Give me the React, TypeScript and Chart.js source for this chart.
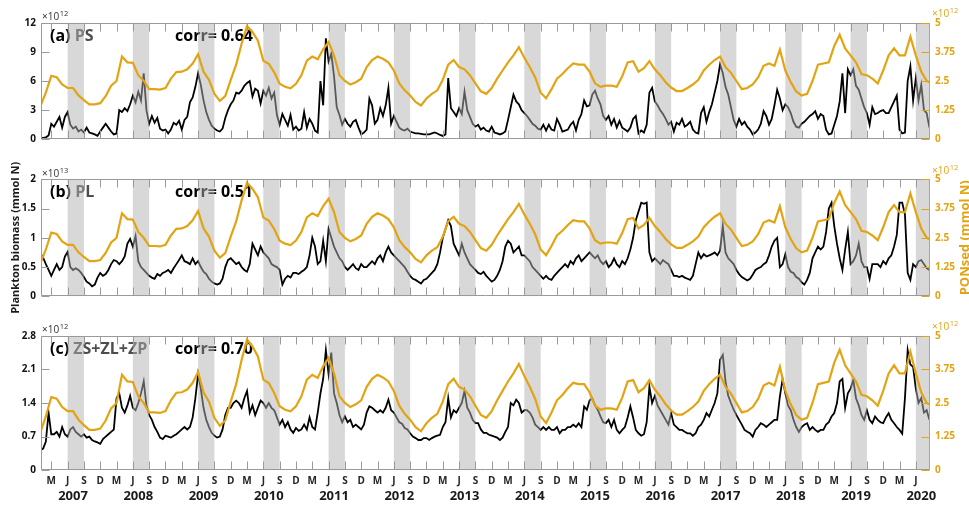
import React, { useEffect, useRef } from 'react';
import { Chart, registerables } from 'chart.js';

Chart.register(...registerables);

const FONT = "'Open Sans', 'Noto Sans', sans-serif";
const ORANGE = '#E3A413';
const FRAME = '#9a9a9a';
const BAND_FILL = 'rgba(178,178,178,0.5)';
const W = 969;
const H = 507;

// time axis (decimal years)
const X_MIN = 2007.009;
const X_MAX = 2020.634;
const BIO_START = 2007;
const BIO_STEP = 1 / 24; // half-month samples
const PON_START = 2007;
const PON_STEP = 1 / 12; // monthly samples

const YEARS = [2007, 2008, 2009, 2010, 2011, 2012, 2013, 2014, 2015, 2016, 2017, 2018, 2019, 2020];
const MONTH_LABELS = ['M', 'J', 'S', 'D'];
const MONTH_INDEX = [2, 5, 8, 11];
const BAND_MONTHS = [5, 8]; // Jun 1 – Sep 1

// (a) PS  [×10^12 mmol N]
const PS = [
  0.15, 0.15, 0.2, 0.4, 1.6, 1.3, 1.8, 2.3, 1.2, 2.3, 2.8, 1.5, 1.1, 1.3, 0.8, 1.0, 0.7, 1.2, 0.7, 0.6, 0.5, 0.35, 0.8, 1.2,
  1.6, 1.2, 0.8, 0.5, 0.6, 3.0, 2.8, 3.2, 2.9, 3.6, 4.5, 3.8, 4.9, 4.0, 6.8, 3.0, 1.6, 2.4, 1.7, 2.2, 1.1, 0.9, 1.0, 0.6,
  1.0, 1.7, 1.5, 1.9, 1.0, 2.0, 2.3, 3.8, 4.3, 5.4, 6.8, 5.6, 4.0, 2.8, 2.0, 1.4, 1.1, 0.9, 0.8, 1.1, 2.2, 3.0, 3.6, 4.0,
  4.8, 4.7, 5.0, 5.5, 5.8, 6.0, 4.4, 5.2, 5.0, 3.7, 5.0, 4.5, 5.3, 4.2, 4.8, 2.5, 1.5, 2.6, 2.0, 1.4, 2.5, 1.0, 1.3, 0.9,
  1.1, 2.8, 1.2, 2.1, 1.6, 0.9, 0.7, 6.0, 3.5, 10.4, 8.0, 8.8, 6.5, 3.3, 2.5, 1.5, 2.1, 1.6, 1.3, 1.8, 2.0, 1.2, 0.5, 0.7,
  1.0, 4.2, 3.5, 1.6, 2.0, 3.2, 2.4, 3.5, 5.3, 1.6, 2.4, 1.8, 1.2, 1.0, 0.9, 1.1, 0.8, 0.7, 0.6, 0.6, 0.55, 0.5, 0.5, 0.5,
  0.6, 0.7, 0.6, 0.45, 0.35, 0.5, 6.3, 3.2, 2.8, 2.4, 3.2, 2.6, 4.9, 3.0, 2.3, 1.6, 1.3, 1.5, 1.0, 1.2, 0.9, 0.8, 1.3, 0.7,
  0.6, 0.5, 0.6, 0.8, 2.0, 3.3, 4.6, 3.9, 3.6, 3.0, 2.7, 2.4, 2.0, 1.6, 1.4, 1.1, 1.0, 1.5, 0.9, 1.5, 1.0, 0.9, 2.1, 1.5,
  0.8, 0.9, 1.0, 1.5, 1.8, 0.9, 2.0, 2.6, 4.0, 3.4, 3.5, 4.6, 5.0, 4.2, 3.6, 2.4, 2.0, 2.4, 1.5, 2.1, 1.2, 1.9, 1.2, 1.0,
  0.8, 1.2, 2.1, 2.4, 0.6, 0.9, 0.7, 1.5, 4.8, 5.3, 3.9, 3.5, 3.0, 2.6, 2.1, 1.5, 1.8, 0.8, 1.7, 1.5, 2.1, 1.3, 1.5, 1.8,
  1.0, 0.7, 0.6, 2.7, 3.3, 1.8, 2.8, 3.6, 4.8, 6.0, 7.7, 6.8, 5.4, 4.6, 3.3, 2.0, 1.3, 2.1, 1.5, 1.8, 1.3, 1.0, 0.5, 0.7,
  1.0, 1.6, 2.9, 2.4, 1.5, 2.1, 3.5, 5.1, 4.2, 3.0, 3.6, 3.3, 2.7, 1.8, 1.3, 1.2, 1.6, 1.8, 2.1, 2.4, 2.6, 2.9, 2.1, 2.6,
  2.4, 1.0, 0.5, 0.6, 1.5, 2.4, 3.9, 6.8, 2.7, 7.2, 6.6, 7.2, 5.5, 5.1, 4.2, 3.3, 2.7, 1.5, 3.3, 2.6, 2.7, 2.9, 3.0, 2.7,
  2.7, 3.3, 3.9, 4.5, 1.0, 0.6, 0.7, 6.0, 7.5, 4.0, 6.3, 4.0, 5.6, 3.0, 2.7, 1.2,
];

// (b) PL  [×10^13 mmol N]
const PL = [
  0.73, 0.66, 0.55, 0.45, 0.35, 0.45, 0.55, 0.45, 0.5, 0.68, 0.76, 0.5, 0.45, 0.48, 0.45, 0.4, 0.33, 0.25, 0.22, 0.17, 0.2, 0.32, 0.4, 0.35,
  0.38, 0.45, 0.55, 0.62, 0.6, 0.55, 0.6, 0.68, 0.9, 0.98, 0.85, 1.03, 0.6, 0.5, 0.45, 0.4, 0.35, 0.32, 0.3, 0.38, 0.35, 0.4, 0.42, 0.45,
  0.4, 0.48, 0.55, 0.62, 0.7, 0.6, 0.58, 0.55, 0.65, 0.55, 0.6, 0.5, 0.42, 0.38, 0.3, 0.25, 0.22, 0.2, 0.22, 0.3, 0.5, 0.62, 0.65, 0.6,
  0.55, 0.58, 0.5, 0.45, 0.42, 0.55, 0.9, 0.8, 0.7, 0.85, 0.75, 0.7, 0.65, 0.55, 0.52, 0.5, 0.45, 0.2, 0.3, 0.35, 0.32, 0.4, 0.4, 0.38,
  0.42, 0.45, 0.5, 0.7, 1.0, 0.85, 0.55, 0.6, 0.95, 0.6, 1.15, 1.0, 0.85, 0.75, 0.65, 0.6, 0.5, 0.45, 0.5, 0.55, 0.48, 0.45, 0.55, 0.5,
  0.5, 0.55, 0.6, 0.55, 0.65, 0.7, 0.6, 0.75, 0.85, 0.75, 0.7, 0.65, 0.6, 0.55, 0.5, 0.42, 0.35, 0.3, 0.28, 0.25, 0.22, 0.28, 0.3, 0.35,
  0.4, 0.45, 0.55, 0.75, 1.0, 1.15, 1.3, 1.2, 0.9, 0.8, 0.7, 0.9, 0.75, 0.65, 0.55, 0.5, 0.45, 0.4, 0.38, 0.42, 0.35, 0.3, 0.25, 0.28,
  0.35, 0.45, 0.6, 0.85, 0.95, 0.9, 0.75, 0.8, 0.85, 0.7, 0.7, 0.65, 0.6, 0.5, 0.45, 0.4, 0.35, 0.3, 0.35, 0.3, 0.28, 0.35, 0.4, 0.45,
  0.5, 0.55, 0.5, 0.6, 0.55, 0.65, 0.7, 0.6, 0.65, 0.7, 0.75, 0.7, 0.65, 0.7, 0.6, 0.55, 0.6, 0.5, 0.55, 0.65, 0.55, 0.5, 0.6, 0.55,
  0.65, 0.8, 1.0, 1.3, 1.45, 1.6, 1.58, 1.6, 0.75, 0.6, 0.65, 0.6, 0.55, 0.62, 0.58, 0.55, 0.45, 0.35, 0.35, 0.33, 0.35, 0.32, 0.3, 0.28,
  0.35, 0.55, 0.75, 0.65, 0.72, 0.68, 0.7, 0.72, 0.75, 0.7, 0.78, 1.2, 0.75, 0.65, 0.6, 0.55, 0.45, 0.38, 0.33, 0.3, 0.27, 0.3, 0.37, 0.45,
  0.48, 0.5, 0.55, 0.58, 0.7, 0.85, 0.95, 1.0, 0.5, 0.55, 0.72, 0.5, 0.42, 0.4, 0.33, 0.3, 0.24, 0.2, 0.28, 0.4, 0.65, 0.75, 0.85, 0.8,
  0.85, 1.1, 1.5, 1.6, 1.2, 0.9, 0.65, 0.45, 0.8, 1.1, 0.55, 0.6, 0.7, 0.9, 0.6, 0.5, 0.5, 0.3, 0.55, 0.55, 0.55, 0.5, 0.6, 0.55,
  0.65, 0.7, 0.85, 1.05, 1.6, 1.6, 1.4, 0.4, 0.28, 0.55, 0.5, 0.6, 0.62, 0.55, 0.48, 0.45,
];

// (c) ZS+ZL+ZP  [×10^12 mmol N]
const ZOO = [
  0.42, 0.45, 0.6, 1.2, 0.75, 0.75, 0.8, 0.7, 0.9, 0.75, 0.7, 0.85, 0.9, 0.8, 0.75, 0.7, 0.75, 0.68, 0.7, 0.63, 0.6, 0.58, 0.55, 0.65,
  0.7, 0.75, 0.8, 0.85, 1.5, 1.6, 1.3, 1.2, 1.35, 1.55, 1.3, 1.25, 1.4, 1.6, 1.85, 1.35, 1.15, 1.05, 0.9, 0.8, 0.68, 0.65, 0.72, 0.7,
  0.68, 0.72, 0.75, 0.8, 0.85, 0.9, 0.85, 0.9, 1.1, 1.5, 2.0, 1.7, 1.3, 1.05, 0.9, 0.78, 0.72, 0.68, 0.7, 0.85, 1.15, 1.3, 1.3, 1.4,
  1.45, 1.4, 1.3, 1.5, 1.65, 1.2, 1.35, 1.15, 1.3, 1.45, 1.4, 1.3, 1.4, 1.3, 1.25, 1.1, 0.95, 1.05, 0.9, 1.0, 0.85, 0.78, 0.88, 0.82,
  0.85, 0.95, 0.85, 1.1, 0.9, 0.85, 1.2, 1.6, 1.9, 2.5, 2.0, 2.45, 1.6, 1.4, 1.15, 1.0, 1.12, 1.0, 1.05, 0.9, 0.95, 0.9, 0.85, 0.95,
  1.2, 1.33, 1.3, 1.25, 1.2, 1.25, 1.2, 1.3, 1.47, 1.25, 1.2, 1.1, 1.0, 0.97, 0.88, 0.85, 0.77, 0.7, 0.67, 0.63, 0.63, 0.67, 0.67, 0.63,
  0.67, 0.7, 0.72, 0.74, 0.9, 1.0, 1.5, 1.1, 1.25, 1.2, 1.3, 1.4, 1.65, 1.3, 1.2, 1.05, 0.98, 0.98, 0.85, 0.78, 0.78, 0.74, 0.72, 0.7,
  0.68, 0.63, 0.68, 0.8, 0.9, 1.4, 1.35, 1.47, 1.4, 1.2, 1.25, 1.25, 1.2, 1.1, 0.95, 0.9, 0.84, 0.9, 0.84, 0.9, 0.84, 0.84, 0.9, 0.77,
  0.84, 0.84, 0.9, 0.9, 0.95, 0.9, 0.98, 0.9, 1.33, 1.26, 1.45, 1.5, 1.35, 1.26, 1.12, 1.0, 0.98, 1.05, 0.9, 1.05, 0.84, 0.77, 0.84, 0.9,
  1.1, 1.33, 1.1, 0.84, 0.77, 0.72, 0.75, 1.0, 1.74, 1.4, 1.55, 1.35, 1.25, 1.15, 1.05, 0.95, 1.19, 0.95, 0.9, 0.84, 0.84, 0.8, 0.77, 0.77,
  0.72, 0.77, 0.9, 0.95, 1.05, 1.19, 1.12, 1.26, 1.4, 1.6, 2.3, 2.4, 1.85, 1.55, 1.4, 1.26, 1.15, 1.05, 0.95, 0.84, 0.8, 0.77, 0.7, 0.84,
  0.9, 0.98, 0.95, 0.9, 0.95, 1.0, 1.05, 1.05, 1.54, 1.9, 1.6, 1.35, 1.25, 1.05, 0.9, 0.8, 0.9, 0.95, 0.98, 0.84, 0.9, 0.84, 0.8, 0.84,
  0.84, 0.95, 1.0, 1.12, 1.19, 1.4, 1.85, 1.9, 1.3, 1.6, 1.7, 1.88, 1.5, 1.35, 1.15, 1.05, 1.25, 1.05, 0.98, 1.12, 1.05, 1.0, 0.98, 1.1,
  1.19, 1.05, 0.98, 0.9, 0.84, 0.76, 1.5, 2.5, 2.2, 2.15, 1.7, 1.4, 1.5, 1.2, 1.25, 1.05,
];

// PONsed  [×10^12 mmol N], monthly
const PONSED = [
  1.42, 2.0, 2.72, 2.66, 2.35, 2.2, 2.2, 1.88, 1.68, 1.5, 1.5, 1.55,
  1.85, 2.3, 2.5, 3.55, 3.3, 3.28, 2.75, 2.5, 2.15, 2.15, 2.13, 2.2,
  2.6, 2.88, 2.9, 3.0, 3.25, 3.65, 2.9, 2.55, 1.95, 1.65, 1.85, 2.55,
  3.2, 4.1, 4.85, 4.6, 4.23, 3.37, 3.24, 2.87, 2.38, 2.25, 2.19, 2.38,
  2.75, 3.37, 3.55, 3.43, 3.86, 4.17, 3.6, 2.75, 2.5, 2.35, 2.45, 2.6,
  3.1, 3.4, 3.55, 3.45, 3.3, 2.95, 2.4, 2.1, 1.88, 1.6, 1.45, 1.75,
  1.95, 2.1, 2.55, 3.2, 3.4, 3.1, 3.0, 2.75, 2.4, 2.06, 1.95, 2.2,
  2.6, 2.95, 3.3, 3.6, 3.95, 3.5, 3.1, 2.65, 2.0, 1.76, 2.15, 2.6,
  2.8, 3.05, 3.25, 3.2, 3.2, 2.9, 2.4, 2.25, 2.3, 2.3, 2.25, 2.7,
  3.3, 3.35, 2.9, 3.05, 3.35, 3.0, 2.75, 2.45, 2.22, 2.07, 2.07, 2.2,
  2.35, 2.55, 2.95, 3.2, 3.4, 3.55, 3.1, 2.85, 2.5, 2.15, 2.2, 2.35,
  2.65, 3.15, 3.25, 3.15, 3.85, 2.95, 2.45, 2.05, 1.88, 1.95, 2.5, 3.2,
  3.25, 3.3, 4.0, 4.48, 3.9, 3.6, 3.3, 2.8, 2.75, 2.6, 2.4, 2.95,
  3.6, 3.9, 3.6, 3.6, 4.4, 3.6, 2.9, 2.5, 2.4,
];

const PS_TICKS = [0, 3, 6, 9, 12];
const PS_TICK_LABELS = ['0', '3', '6', '9', '12'];
const PL_TICKS = [0, 0.5, 1, 1.5, 2];
const PL_TICK_LABELS = ['0', '0.5', '1', '1.5', '2'];
const ZOO_TICKS = [0, 0.7, 1.4, 2.1, 2.8];
const ZOO_TICK_LABELS = ['0', '0.7', '1.4', '2.1', '2.8'];
const PON_TICKS = [0, 1.25, 2.5, 3.75, 5];
const PON_TICK_LABELS = ['0', '1.25', '2.5', '3.75', '5'];

const LEFT_TITLE = 'Plankton biomass (mmol N)';
const RIGHT_TITLE = 'PONsed (mmol N)';

const MONTH_TICKS: number[] = [];
const MONTH_TICK_LABELS: string[] = [];
YEARS.forEach((y) => {
  MONTH_INDEX.forEach((m, i) => {
    const v = y + m / 12;
    if (v >= X_MIN && v <= X_MAX) {
      MONTH_TICKS.push(v);
      MONTH_TICK_LABELS.push(MONTH_LABELS[i]);
    }
  });
});
const YEAR_TICKS = YEARS.map((y) => y + 0.5);
const YEAR_TICK_LABELS = YEARS.map((y) => String(y));

type PanelCfg = {
  tag: string;
  name: string;
  corr: string;
  exp: string;
  series: number[];
  ticks: number[];
  tickLabels: string[];
  top: number;
  bottom: number;
  showX: boolean;
  axisTitles: boolean;
};

const PANELS: PanelCfg[] = [
  { tag: '(a)', name: 'PS', corr: '0.64', exp: '12', series: PS, ticks: PS_TICKS, tickLabels: PS_TICK_LABELS, top: 22.7, bottom: 157.3, showX: false, axisTitles: false },
  { tag: '(b)', name: 'PL', corr: '0.51', exp: '13', series: PL, ticks: PL_TICKS, tickLabels: PL_TICK_LABELS, top: 179.3, bottom: 314.3, showX: false, axisTitles: true },
  { tag: '(c)', name: 'ZS+ZL+ZP', corr: '0.70', exp: '12', series: ZOO, ticks: ZOO_TICKS, tickLabels: ZOO_TICK_LABELS, top: 335.7, bottom: 470.3, showX: true, axisTitles: false },
];

function decoPlugin(p: PanelCfg) {
  return {
    id: 'panelDeco',
    afterDatasetDraw(chart: any, args: any) {
      if (args.index !== 0) return;
      const { ctx, chartArea: a } = chart;
      const x = chart.scales.x;
      ctx.save();
      // panel titles
      ctx.font = `bold 16px ${FONT}`;
      ctx.textAlign = 'left';
      ctx.textBaseline = 'alphabetic';
      const ty = a.top + 18;
      const tx = a.left + 9;
      ctx.fillStyle = '#000';
      ctx.fillText(p.tag + ' ', tx, ty);
      const w = ctx.measureText(p.tag + ' ').width;
      ctx.fillStyle = '#4d4d4d';
      ctx.fillText(p.name, tx + w, ty);
      ctx.fillStyle = '#000';
      ctx.fillText('corr= ' + p.corr, a.left + 134, ty);
      // summer bands (semi-transparent overlay)
      ctx.beginPath();
      ctx.rect(a.left, a.top, a.right - a.left, a.bottom - a.top);
      ctx.clip();
      ctx.fillStyle = BAND_FILL;
      YEARS.forEach((y) => {
        const x0 = x.getPixelForValue(y + BAND_MONTHS[0] / 12);
        const x1 = x.getPixelForValue(y + BAND_MONTHS[1] / 12);
        ctx.fillRect(x0, a.top, x1 - x0, a.bottom - a.top);
      });
      ctx.restore();
    },
    afterDraw(chart: any) {
      const { ctx, chartArea: a } = chart;
      const x = chart.scales.x;
      const y = chart.scales.y;
      const y1 = chart.scales.y1;
      ctx.save();
      ctx.lineWidth = 1;
      const L = Math.round(a.left) + 0.5;
      const R = Math.round(a.right) - 0.5;
      const T = Math.round(a.top) + 0.5;
      const B = Math.round(a.bottom) - 0.5;
      const TL = 8;
      ctx.strokeStyle = FRAME;
      ctx.beginPath();
      ctx.moveTo(R, T);
      ctx.lineTo(L, T);
      ctx.lineTo(L, B);
      ctx.lineTo(R, B);
      MONTH_TICKS.forEach((v) => {
        const px = Math.round(x.getPixelForValue(v)) + 0.5;
        ctx.moveTo(px, T);
        ctx.lineTo(px, T + TL);
        ctx.moveTo(px, B);
        ctx.lineTo(px, B - TL);
      });
      p.ticks.forEach((v) => {
        const py = Math.round(y.getPixelForValue(v)) + 0.5;
        ctx.moveTo(L, py);
        ctx.lineTo(L + TL, py);
      });
      ctx.stroke();
      ctx.strokeStyle = ORANGE;
      ctx.beginPath();
      ctx.moveTo(R, T);
      ctx.lineTo(R, B);
      PON_TICKS.forEach((v) => {
        const py = Math.round(y1.getPixelForValue(v)) + 0.5;
        ctx.moveTo(R, py);
        ctx.lineTo(R - TL, py);
      });
      ctx.stroke();

      // exponent labels
      ctx.textAlign = 'left';
      ctx.textBaseline = 'alphabetic';
      ctx.fillStyle = '#333';
      ctx.font = `10px ${FONT}`;
      ctx.fillText('×10', a.left + 1, a.top - 2.7);
      let w = ctx.measureText('×10').width;
      ctx.font = `7.5px ${FONT}`;
      ctx.fillText(p.exp, a.left + 1.5 + w, a.top - 6.7);
      ctx.fillStyle = ORANGE;
      ctx.font = `10px ${FONT}`;
      ctx.fillText('×10', a.right + 2, a.top - 5.4);
      w = ctx.measureText('×10').width;
      ctx.font = `7.5px ${FONT}`;
      ctx.fillText('12', a.right + 2.5 + w, a.top - 9.5);

      if (p.axisTitles) {
        const cy = (a.top + a.bottom) / 2;
        ctx.font = `bold 11px ${FONT}`;
        ctx.textAlign = 'center';
        ctx.textBaseline = 'alphabetic';
        ctx.fillStyle = '#1a1a1a';
        ctx.save();
        ctx.translate(18.5, cy);
        ctx.rotate(-Math.PI / 2);
        ctx.fillText(LEFT_TITLE, 0, 0);
        ctx.restore();
        ctx.font = `bold 13px ${FONT}`;
        ctx.fillStyle = ORANGE;
        ctx.save();
        ctx.translate(968.5, cy);
        ctx.rotate(-Math.PI / 2);
        ctx.fillText(RIGHT_TITLE, 0, 0);
        ctx.restore();
      }
      ctx.restore();
    },
  };
}

function Panel({ p }: { p: PanelCfg }) {
  const ref = useRef<HTMLCanvasElement>(null);
  useEffect(() => {
    const tickFont = { family: FONT, size: 10, weight: 'bold' as const };
    const scales: any = {
      x: {
        type: 'linear',
        position: 'bottom',
        min: X_MIN,
        max: X_MAX,
        display: p.showX,
        weight: 0,
        afterBuildTicks: (s: any) => {
          s.ticks = MONTH_TICKS.map((v) => ({ value: v }));
        },
        afterFit: (s: any) => {
          s.height = 18;
        },
        ticks: {
          autoSkip: false,
          maxRotation: 0,
          minRotation: 0,
          padding: 4.4,
          font: tickFont,
          color: '#262626',
          callback: (_v: any, i: number) => MONTH_TICK_LABELS[i],
        },
        grid: { display: false, drawTicks: false },
        border: { display: false },
      },
      y: {
        type: 'linear',
        position: 'left',
        min: 0,
        max: p.ticks[p.ticks.length - 1],
        afterBuildTicks: (s: any) => {
          s.ticks = p.ticks.map((v) => ({ value: v }));
        },
        afterFit: (s: any) => {
          s.width = 41;
        },
        ticks: {
          padding: 5,
          font: tickFont,
          color: '#111',
          callback: (_v: any, i: number) => p.tickLabels[i],
        },
        grid: { display: false, drawTicks: false },
        border: { display: false },
      },
      y1: {
        type: 'linear',
        position: 'right',
        min: 0,
        max: 5,
        afterBuildTicks: (s: any) => {
          s.ticks = PON_TICKS.map((v) => ({ value: v }));
        },
        afterFit: (s: any) => {
          s.width = W - 930;
        },
        ticks: {
          padding: 5,
          font: tickFont,
          color: ORANGE,
          callback: (_v: any, i: number) => PON_TICK_LABELS[i],
        },
        grid: { display: false, drawTicks: false },
        border: { display: false },
      },
    };
    if (p.showX) {
      scales.xYear = {
        type: 'linear',
        position: 'bottom',
        min: X_MIN,
        max: X_MAX,
        weight: 1,
        afterBuildTicks: (s: any) => {
          s.ticks = YEAR_TICKS.map((v) => ({ value: v }));
        },
        afterFit: (s: any) => {
          s.height = H - p.bottom - 18;
        },
        ticks: {
          autoSkip: false,
          maxRotation: 0,
          minRotation: 0,
          padding: 0.6,
          font: { family: FONT, size: 13, weight: 'bold' },
          color: '#1a1a1a',
          callback: (_v: any, i: number) => YEAR_TICK_LABELS[i],
        },
        grid: { display: false, drawTicks: false },
        border: { display: false },
      };
    }
    const chart = new Chart(ref.current as HTMLCanvasElement, {
      type: 'line',
      data: {
        datasets: [
          {
            data: p.series.map((v, i) => ({ x: BIO_START + i * BIO_STEP, y: v })),
            yAxisID: 'y',
            xAxisID: 'x',
            borderColor: '#000',
            borderWidth: 1.8,
            pointRadius: 0,
            fill: false,
            order: 1,
          },
          {
            data: PONSED.map((v, i) => ({ x: PON_START + i * PON_STEP, y: v })),
            yAxisID: 'y1',
            xAxisID: 'x',
            borderColor: ORANGE,
            borderWidth: 2.2,
            pointRadius: 0,
            fill: false,
            order: 0,
          },
        ],
      },
      options: {
        responsive: false,
        animation: false,
        devicePixelRatio: 1,
        events: [],
        layout: {
          autoPadding: false,
          padding: { top: p.top, bottom: p.showX ? 0 : H - p.bottom, left: 0, right: 0 },
        },
        plugins: { legend: { display: false }, tooltip: { enabled: false }, title: { display: false } },
        scales,
      } as any,
      plugins: [decoPlugin(p)],
    });
    return () => chart.destroy();
  }, []);
  return (
    <canvas
      ref={ref}
      width={W}
      height={H}
      style={{ position: 'absolute', left: 0, top: 0, width: W, height: H }}
    />
  );
}

export default function App() {
  return (
    <div style={{ position: 'absolute', left: 0, top: 0, width: W, height: H, background: '#fff', overflow: 'hidden' }}>
      {PANELS.map((p) => (
        <Panel key={p.tag} p={p} />
      ))}
    </div>
  );
}
